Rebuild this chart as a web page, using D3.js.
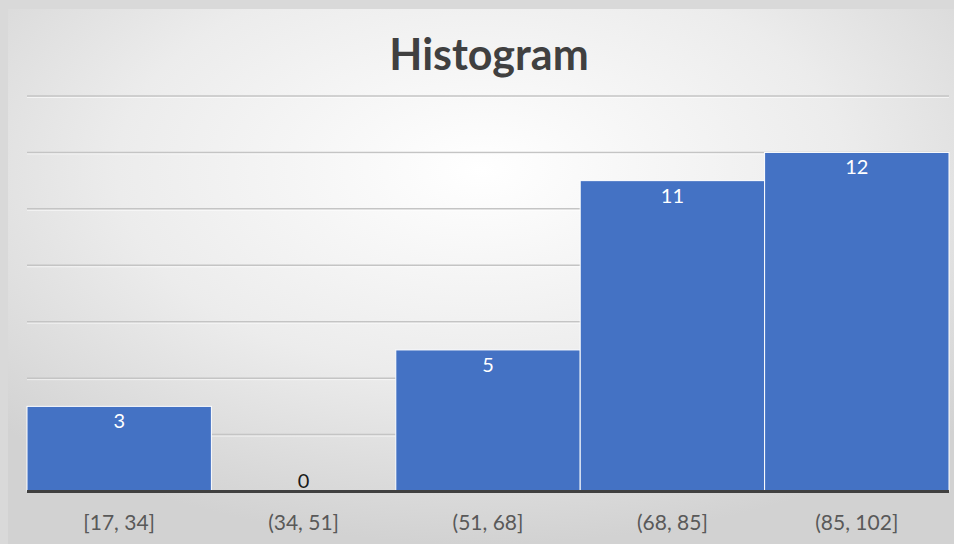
<!DOCTYPE html>
<html><head><meta charset="utf-8">
<script src="https://cdn.jsdelivr.net/npm/d3@7"></script>
<style>html,body{margin:0;padding:0;background:#d9d9d9;}svg{display:block;}</style>
</head><body>
<svg id="c" width="954" height="544"></svg>
<script>
const categories = ["[17, 34]", "(34, 51]", "(51, 68]", "(68, 85]", "(85, 102]"];
const counts = [3, 0, 5, 11, 12];
const yTicks = [0, 2, 4, 6, 8, 10, 12, 14];
const title = "Histogram";

(function(){
const svg = d3.select("#c");
const W = 954, H = 544;
const defs = svg.append("defs");
const rg = defs.append("radialGradient").attr("id","bg")
  .attr("cx","50%").attr("cy","30%").attr("r","70%")
  .attr("gradientUnits","objectBoundingBox");
rg.append("stop").attr("offset","0%").attr("stop-color","#ffffff");
rg.append("stop").attr("offset","55%").attr("stop-color","#ececec");
rg.append("stop").attr("offset","100%").attr("stop-color","#d2d2d2");

svg.append("rect").attr("width",W).attr("height",H).attr("fill","#d9d9d9");
svg.append("rect").attr("x",8).attr("y",9).attr("width",W-8).attr("height",H-9).attr("fill","url(#bg)");

const mLeft = 27, mRight = 949, mTop = 96, mBottom = 491;
const x = d3.scaleBand().domain(categories).range([mLeft, mRight]).padding(0);
const y = d3.scaleLinear().domain([0, 14]).range([mBottom, mTop]);

const g = svg.append("g");
g.selectAll("line.grid").data(yTicks.filter(d => d > 0)).join("line")
  .attr("class","grid")
  .attr("x1", mLeft).attr("x2", mRight)
  .attr("y1", d => y(d)).attr("y2", d => y(d))
  .attr("stroke","#c4c4c4").attr("stroke-width",1.5);
g.selectAll("line.gridhl").data(yTicks.filter(d => d > 0)).join("line")
  .attr("class","gridhl")
  .attr("x1", mLeft).attr("x2", mRight)
  .attr("y1", d => y(d)+1.5).attr("y2", d => y(d)+1.5)
  .attr("stroke","#ffffff").attr("stroke-opacity",0.6).attr("stroke-width",1);

svg.selectAll("rect.bar").data(counts).join("rect")
  .attr("class","bar")
  .attr("x", (d,i) => x(categories[i]))
  .attr("width", x.bandwidth())
  .attr("y", d => y(d))
  .attr("height", d => y(0) - y(d))
  .attr("fill","#4472c4")
  .attr("stroke","#ffffff").attr("stroke-width", d => d > 0 ? 1 : 0);

svg.append("line").attr("x1",mLeft).attr("x2",mRight)
  .attr("y1",y(0)+0.5).attr("y2",y(0)+0.5)
  .attr("stroke","#404040").attr("stroke-width",3);

const font = "Lato, 'Open Sans', 'Liberation Sans', sans-serif";

svg.selectAll("text.val").data(counts).join("text")
  .attr("class","val")
  .attr("x", (d,i) => x(categories[i]) + x.bandwidth()/2)
  .attr("y", d => d > 0 ? y(d) + 22 : y(0) - 3)
  .attr("text-anchor","middle")
  .attr("font-family", font).attr("font-size", 20)
  .attr("fill", d => d > 0 ? "#ffffff" : "#1a1a1a")
  .text(d => d);

svg.selectAll("text.cat").data(categories).join("text")
  .attr("class","cat")
  .attr("x", d => x(d) + x.bandwidth()/2)
  .attr("y", 530)
  .attr("text-anchor","middle")
  .attr("font-family", font).attr("font-size", 21)
  .attr("fill","#595959")
  .text(d => d);

svg.append("text").attr("x", 489).attr("y", 70)
  .attr("text-anchor","middle")
  .attr("font-family", font).attr("font-size", 43).attr("font-weight","bold")
  .attr("fill","#404040")
  .text(title);
})();
</script>
</body></html>
